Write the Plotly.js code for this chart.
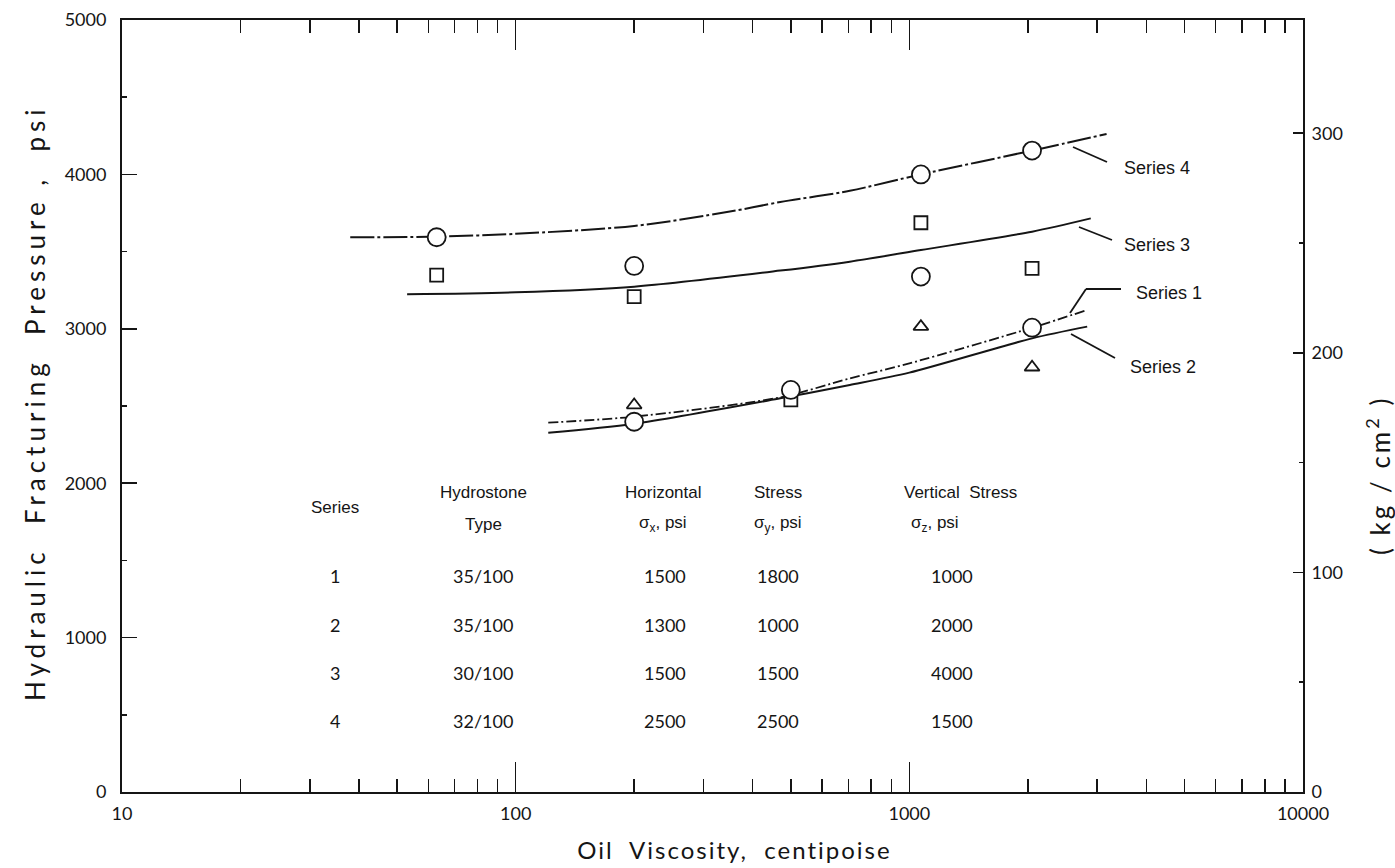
<!DOCTYPE html>
<html>
<head>
<meta charset="utf-8">
<script src="https://cdn.plot.ly/plotly-3.0.1.min.js"></script>
<style>html,body{margin:0;padding:0;background:#fff;}#chart{width:1395px;height:868px;}</style>
</head>
<body>
<div id="chart"></div>
<script>
// ---- Data ----
const xTickVals = [10, 100, 1000, 10000];
const xTickText = ['10', '100', '1000', '10000'];
const xMinorVals = [20,30,40,50,60,70,80,90,200,300,400,500,600,700,800,900,2000,3000,4000,5000,6000,7000,8000,9000];
const yTickVals = [0, 1000, 2000, 3000, 4000, 5000];
const yMinorVals = [500, 1500, 2500, 3500, 4500];
const y2TickVals = [0, 100, 200, 300];
const y2MinorVals = [50, 150, 250];
const psiPerKg = 14.223;

// fitted curves
const s4x = [38, 63, 100, 200, 350, 470, 706, 1070, 2050, 3170];
const s4y = [3593, 3597, 3615, 3666, 3759, 3821, 3894, 4000, 4154, 4262];
const s3x = [53, 100, 200, 470, 706, 1070, 2050, 2890];
const s3y = [3223, 3236, 3273, 3377, 3435, 3510, 3629, 3715];
const s1x = [121, 200, 470, 706, 1000, 2050, 2830];
const s1y = [2392, 2431, 2556, 2679, 2776, 3007, 3122];
const s2x = [121, 200, 470, 706, 1000, 2050, 2830];
const s2y = [2327, 2385, 2550, 2636, 2716, 2938, 3014];

// measured points
const circX = [63, 1070, 2050, 200, 500, 2050, 200, 1070];
const circY = [3593, 4000, 4154, 2398, 2604, 3007, 3407, 3338];
const sqX = [63, 200, 1070, 2050, 500];
const sqY = [3348, 3208, 3687, 3392, 2540];
const triX = [200, 1070, 2050];
const triY = [2506, 3014, 2751];

// table
const tableHead1 = ['Hydrostone', 'Horizontal', 'Stress', 'Vertical  Stress'];
const tableHead2 = ['Type', 'σ<sub>x</sub>, psi', 'σ<sub>y</sub>, psi', 'σ<sub>z</sub>, psi'];
const seriesNo = ['1', '2', '3', '4'];
const hydroType = ['35/100', '35/100', '30/100', '32/100'];
const sigX = ['1500', '1300', '1500', '2500'];
const sigY = ['1800', '1000', '1500', '2500'];
const sigZ = ['1000', '2000', '4000', '1500'];
const curveLabels = ['Series 4', 'Series 3', 'Series 1', 'Series 2'];

// ---- Layout helpers (pixel -> paper) ----
const L = 122, R = 1303, T = 20, B = 792;
const px = x => (x - L) / (R - L);
const py = y => (B - y) / (B - T);
const INK = '#151515';
const FONT = 'Liberation Sans Narrow, Liberation Sans, DejaVu Sans, sans-serif';
const TFONT = 'Lato, Open Sans, DejaVu Sans, sans-serif';

function curve(x, y, dash, w) {
  return {x: x, y: y, type: 'scatter', mode: 'lines', line: {color: INK, width: w, dash: dash, shape: 'spline', smoothing: 0.8}, hoverinfo: 'skip', showlegend: false};
}
function pts(x, y, sym, size) {
  return {x: x, y: y, type: 'scatter', mode: 'markers', marker: {symbol: sym, size: size, color: '#ffffff', line: {color: INK, width: 1.8}}, showlegend: false, cliponaxis: false};
}

const traces = [
  curve(s4x, s4y, '24px,3px,3px,3px', 2),
  curve(s3x, s3y, 'solid', 2),
  curve(s1x, s1y, '10px,3px,2px,3px', 1.8),
  curve(s2x, s2y, 'solid', 2),
  pts(sqX, sqY, 'square', 13),
  pts(triX, triY, 'triangle-up', 13),
  pts(circX, circY, 'circle', 18),
  {x: [10], y: [0], yaxis: 'y2', type: 'scatter', mode: 'markers', marker: {opacity: 0}, showlegend: false, hoverinfo: 'skip'}
];

const ann = [];
function txt(t, x, y, size, font, opts) {
  ann.push(Object.assign({text: t, x: px(x), y: py(y), xref: 'paper', yref: 'paper', showarrow: false,
    font: {family: font || FONT, size: size || 16, color: INK}, xanchor: 'center', yanchor: 'middle'}, opts || {}));
}
// axis titles (first three annotations get letter spacing after render)
txt('Hydraulic  Fracturing  Pressure ,  psi', 35, 403, 26, TFONT, {textangle: -90});
txt('Oil  Viscosity,  centipoise', 734, 849, 24, TFONT);
txt('( kg / cm<sup>2</sup> )', 1378, 476, 26, TFONT, {textangle: -90});
const titleSpacing = [5, 2, 3];

// table
const colX = [483, 663, 778, 960];
txt('Series', 335, 507, 17);
for (let i = 0; i < 4; i++) {
  txt(tableHead1[i], colX[i], 493, 17);
  txt(tableHead2[i], i === 3 ? 935 : colX[i], 524, 17);
}
const rowY = [576, 625, 673, 721];
for (let r = 0; r < 4; r++) {
  txt(seriesNo[r], 335, rowY[r], 18, TFONT);
  txt(hydroType[r], colX[0], rowY[r], 18, TFONT);
  txt(sigX[r], colX[1] + 2, rowY[r], 18, TFONT);
  txt(sigY[r], colX[2], rowY[r], 18, TFONT);
  txt(sigZ[r], 952, rowY[r], 18, TFONT);
}
// curve labels
const labPos = [[1122, 168], [1122, 245], [1134, 293], [1128, 367]];
for (let i = 0; i < 4; i++) txt(curveLabels[i], labPos[i][0], labPos[i][1], 18, FONT, {xanchor: 'left'});

// pointer lines
function seg(x0, y0, x1, y1) {
  return {type: 'line', xref: 'paper', yref: 'paper', x0: px(x0), y0: py(y0), x1: px(x1), y1: py(y1), line: {color: INK, width: 1.8}};
}
const shapes = [
  seg(1107, 162, 1073, 147),
  seg(1112, 240, 1079, 227),
  seg(1121, 289, 1086, 289),
  seg(1086, 289, 1070, 313),
  seg(1115, 358, 1071, 334)
];

const axisCommon = {showgrid: false, zeroline: false, showline: true, linecolor: INK, linewidth: 2, tickcolor: INK, tickwidth: 1.6,
  tickfont: {family: TFONT, size: 18, color: INK}};

const layout = {
  width: 1395, height: 868,
  margin: {l: L, r: 1395 - R, t: T, b: 868 - B},
  paper_bgcolor: '#ffffff', plot_bgcolor: '#ffffff',
  showlegend: false,
  xaxis: Object.assign({}, axisCommon, {type: 'log', range: [1, 4], tickvals: xTickVals, ticktext: xTickText,
    ticks: 'inside', ticklen: 30, mirror: 'ticks', ticklabelstandoff: 4,
    minor: {tickvals: xMinorVals, ticks: 'inside', ticklen: 13, tickwidth: 1.6, tickcolor: INK, showgrid: false}}),
  yaxis: Object.assign({}, axisCommon, {range: [0, 5000], tickvals: yTickVals, ticks: 'inside', ticklen: 15, ticklabelstandoff: 10,
    minor: {tickvals: yMinorVals, ticks: 'inside', ticklen: 5, tickwidth: 1.6, tickcolor: INK, showgrid: false}}),
  yaxis2: Object.assign({}, axisCommon, {overlaying: 'y', side: 'right', range: [0, 5000 / psiPerKg], tickvals: y2TickVals,
    ticks: 'inside', ticklen: 10, ticklabelstandoff: 3,
    minor: {tickvals: y2MinorVals, ticks: 'inside', ticklen: 4, tickwidth: 1.6, tickcolor: INK, showgrid: false}}),
  annotations: ann,
  shapes: shapes
};

Plotly.newPlot('chart', traces, layout, {staticPlot: true}).then(function (gd) {
  const texts = gd.querySelectorAll('.annotation-text');
  for (let i = 0; i < 3 && i < texts.length; i++) texts[i].style.letterSpacing = titleSpacing[i] + 'px';
});
</script>
</body>
</html>
